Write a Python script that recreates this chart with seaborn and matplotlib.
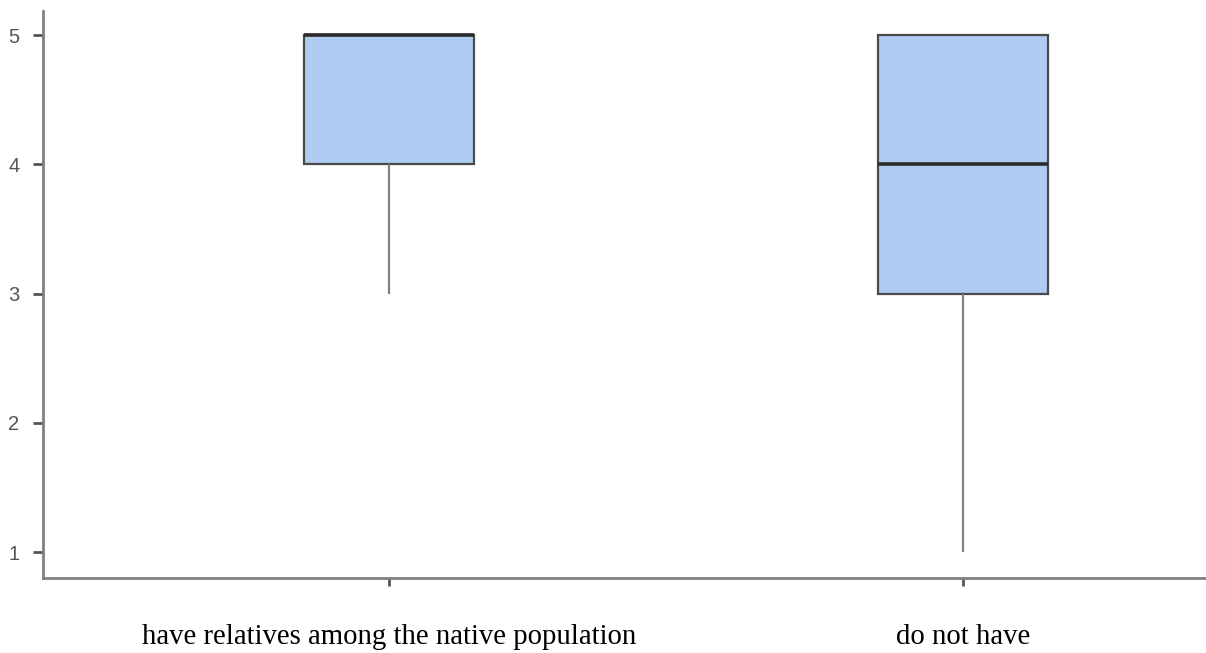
import pandas as pd
import matplotlib
matplotlib.use("Agg")
import matplotlib.pyplot as plt
import seaborn as sns

# =======================
# DATA
# =======================
categories = ["have relatives among the native population", "do not have"]
# individual responses (1-5 scale)
responses_relatives = [3, 4, 4, 4, 5, 5, 5, 5, 5]
responses_no_relatives = [1, 2, 3, 3, 4, 5, 5, 5, 5]
y_ticks = [1, 2, 3, 4, 5]

df = pd.DataFrame({
    "group": [categories[0]] * len(responses_relatives) + [categories[1]] * len(responses_no_relatives),
    "score": responses_relatives + responses_no_relatives,
})

# =======================
# PLOT
# =======================
sns.set_style("white")
fig = plt.figure(figsize=(12.06, 6.53), dpi=100)
ax = fig.add_axes([43 / 1206, 1 - 578 / 653, 1 - 43 / 1206, (578 - 11) / 653])

spine_col = "#808080"
edge_col = "#4a4a4a"

sns.boxplot(
    data=df, x="group", y="score", order=categories, ax=ax,
    color="#aecbf1", width=0.296, whis=1.5, showfliers=False, saturation=1,
    boxprops=dict(edgecolor=edge_col, linewidth=1.6),
    whiskerprops=dict(color=spine_col, linewidth=1.6),
    capprops=dict(linewidth=0),
    medianprops=dict(color="#2b2b2b", linewidth=2.6),
)

ax.set_xlim(-0.603, 1.423)
ax.set_ylim(0.8, 5.186)
ax.set_yticks(y_ticks)
ax.set_xlabel("")
ax.set_ylabel("")

for side in ["top", "right"]:
    ax.spines[side].set_visible(False)
for side in ["left", "bottom"]:
    ax.spines[side].set_color(spine_col)
    ax.spines[side].set_linewidth(2)

ax.tick_params(axis="y", direction="out", length=7, width=2, color="#555555",
               labelsize=14.5, labelcolor="#555555", pad=10, left=True)
ax.tick_params(axis="x", direction="out", length=6, width=2, color="#555555",
               pad=27, bottom=True)
for lab in ax.get_xticklabels():
    lab.set_fontfamily("Liberation Serif")
    lab.set_fontsize(20.7)
    lab.set_color("black")
for lab in ax.get_yticklabels():
    lab.set_fontfamily("Liberation Sans")

fig.savefig("out.png", dpi=100)
